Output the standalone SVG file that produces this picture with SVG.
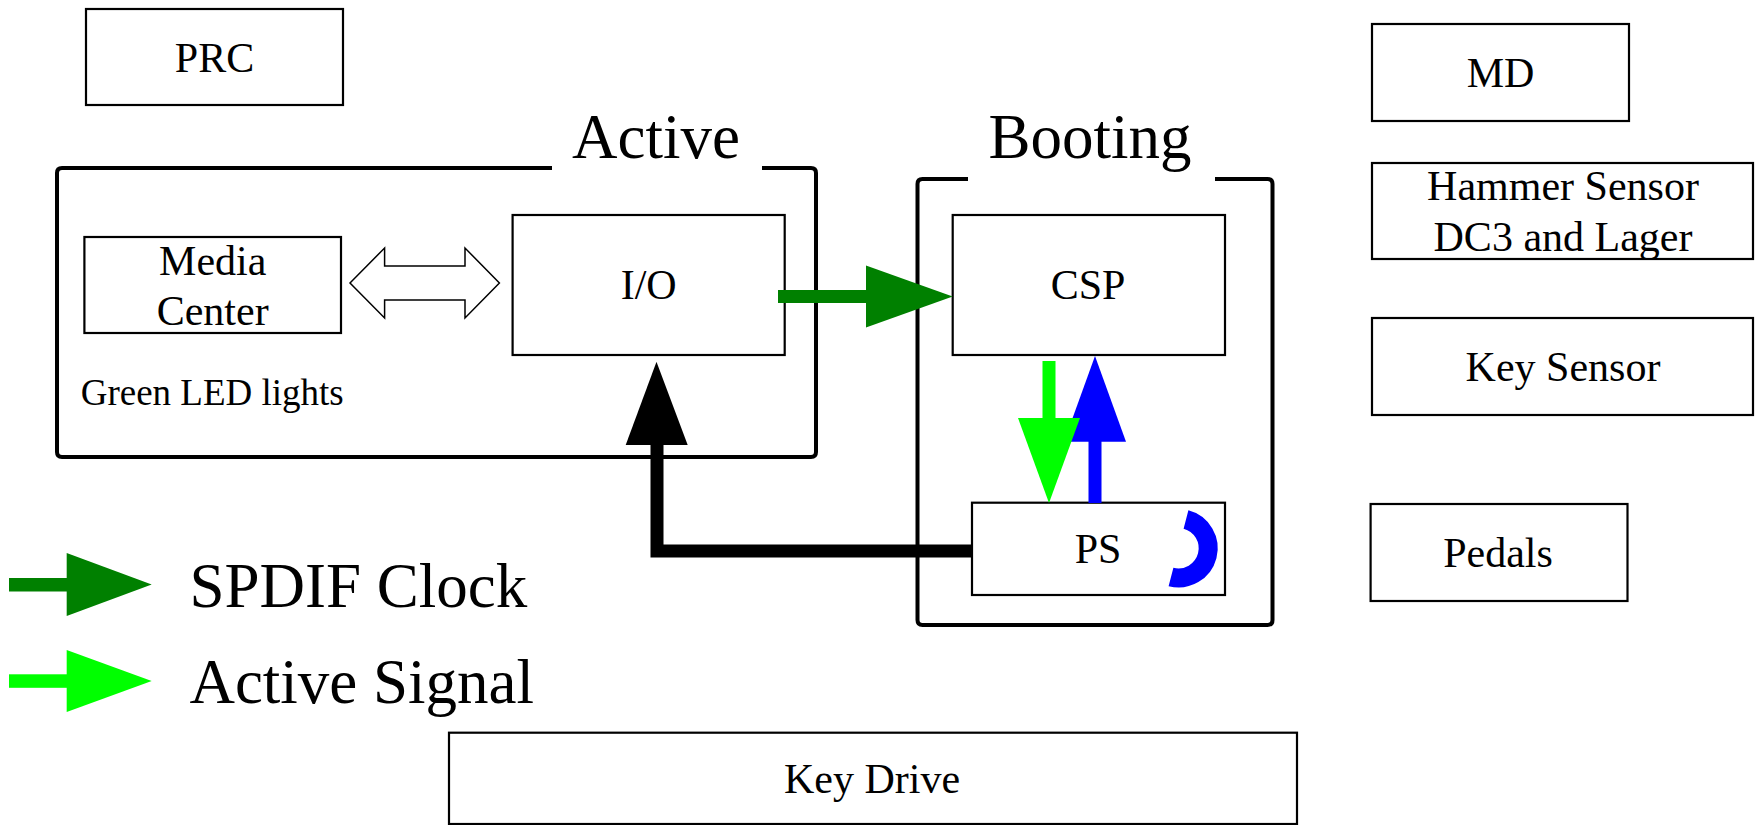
<svg xmlns="http://www.w3.org/2000/svg" width="1755" height="825" viewBox="0 0 1755 825" font-family="'Liberation Serif', serif">
<style>
.box{fill:#fff;stroke:#000;stroke-width:2.2}
.cont{fill:none;stroke:#000;stroke-width:4;stroke-linejoin:round}
.t{font-family:'Liberation Serif',serif;font-size:42px;text-anchor:middle}
.big{font-family:'Liberation Serif',serif;font-size:63px}
.sm{font-family:'Liberation Serif',serif;font-size:37px}
</style>
<rect width="1755" height="825" fill="#fff"/>
<g id="active-group">
<path class="cont" d="M552 168 H62 Q57 168 57 173 V452 Q57 457 62 457 H811 Q816 457 816 452 V173 Q816 168 811 168 H762"/>
<text class="big" x="572" y="157.5">Active</text>
<text class="sm" x="80.7" y="405">Green LED lights</text>
</g>
<g id="booting-group">
<path class="cont" d="M968 179 H922.5 Q917.5 179 917.5 184 V620 Q917.5 625 922.5 625 H1267.5 Q1272.5 625 1272.5 620 V184 Q1272.5 179 1267.5 179 H1215"/>
<text class="big" x="988.5" y="158">Booting</text>
</g>
<g id="prc"><rect class="box" x="86" y="9" width="257" height="96"/><text class="t" x="214.5" y="72">PRC</text></g>
<g id="media-center"><rect class="box" x="84.4" y="237" width="256.6" height="96"/><text class="t" x="212.7" y="275">Media</text><text class="t" x="212.7" y="325">Center</text></g>
<g id="io"><rect class="box" x="512.6" y="215" width="272.1" height="140"/><text class="t" x="648.7" y="299">I/O</text></g>
<g id="csp"><rect class="box" x="952.7" y="215" width="272.3" height="140"/><text class="t" x="1088" y="299">CSP</text></g>
<g id="ps"><rect class="box" x="972" y="502.7" width="253" height="92.3"/><text class="t" x="1098" y="563">PS</text>
<path d="M1186 519.5 A29.5 29.5 0 0 1 1171 577" fill="none" stroke="#0000ff" stroke-width="19"/></g>
<g id="md"><rect class="box" x="1372" y="24" width="257" height="97"/><text class="t" x="1500.5" y="87">MD</text></g>
<g id="hammer-sensor"><rect class="box" x="1372" y="163" width="381" height="96"/><text class="t" x="1563" y="200">Hammer Sensor</text><text class="t" x="1563" y="250.7">DC3 and Lager</text></g>
<g id="key-sensor"><rect class="box" x="1372" y="318" width="381" height="97"/><text class="t" x="1563" y="381">Key Sensor</text></g>
<g id="pedals"><rect class="box" x="1370.6" y="504" width="256.9" height="97"/><text class="t" x="1498" y="566.7">Pedals</text></g>
<g id="key-drive"><rect class="box" x="449" y="732.7" width="848" height="91.3"/><text class="t" x="872" y="792.7">Key Drive</text></g>
<g id="connectors">
<polygon points="350,283 384.6,248 384.6,266 465,266 465,248 499.4,283 465,318 465,300 384.6,300 384.6,318" fill="#fff" stroke="#000" stroke-width="1.5"/>
<rect x="778" y="290" width="88" height="13" fill="#008000"/>
<polygon points="866,265.5 952.7,296.5 866,327.5" fill="#008000"/>
<polyline points="972,551 657,551 657,444" fill="none" stroke="#000" stroke-width="13" stroke-linejoin="miter"/>
<polygon points="625.7,445 656.5,361.7 687.7,445" fill="#000"/>
<rect x="1088.5" y="440" width="13" height="63" fill="#0000ff"/>
<polygon points="1064,441.7 1095,356 1126,441.7" fill="#0000ff"/>
<rect x="1042.5" y="361" width="13" height="58" fill="#00ff00"/>
<polygon points="1018,418 1049,503 1080,418" fill="#00ff00"/>
</g>
<g id="legend">
<rect x="9" y="578" width="58" height="13.5" fill="#008000"/>
<polygon points="66.7,553 151.7,584.5 66.7,616" fill="#008000"/>
<text class="big" x="189.4" y="606.7">SPDIF Clock</text>
<rect x="9" y="674.3" width="58" height="13.5" fill="#00ff00"/>
<polygon points="66.7,650 151.7,681 66.7,712" fill="#00ff00"/>
<text class="big" x="189.4" y="702.7">Active Signal</text>
</g>
</svg>
